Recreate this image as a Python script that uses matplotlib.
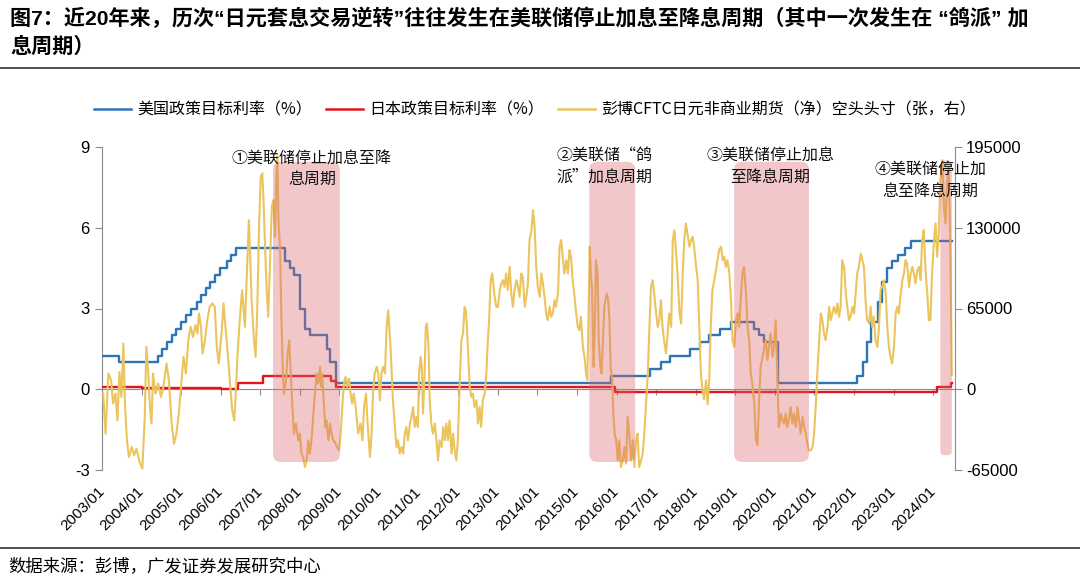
import matplotlib
matplotlib.use('Agg')
import matplotlib.pyplot as plt
from matplotlib.patches import FancyBboxPatch
from matplotlib.lines import Line2D

plt.rcParams['font.family'] = ['Liberation Sans', 'Noto Sans CJK SC']

# ---------------- text ----------------
title_l1 = '图7：近20年来，历次“日元套息交易逆转”往往发生在美联储停止加息至降息周期（其中一次发生在 “鸽派” 加'
title_l2 = '息周期）'
source_text = '数据来源：彭博，广发证券发展研究中心'
legend_labels = ['美国政策目标利率（%）', '日本政策目标利率（%）',
                 '彭博CFTC日元非商业期货（净）空头头寸（张，右）']
year_ticks = list(range(2003, 2025))
year_labels = [f'{y}/01' for y in year_ticks]
left_ticks = [-3, 0, 3, 6, 9]
right_ticks = [-65000, 0, 65000, 130000, 195000]

# ---------------- data ----------------
# US policy target rate (%), step changes (decimal year as placed on chart)
us_t = [2003.00, 2003.42, 2004.42, 2004.52, 2004.63, 2004.77, 2004.86, 2005.00, 2005.13, 2005.25,
        2005.41, 2005.51, 2005.63, 2005.74, 2005.86, 2005.99, 2006.15, 2006.27, 2006.39, 2007.62,
        2007.75, 2007.86, 2007.99, 2008.13, 2008.25, 2008.69, 2008.76, 2008.90, 2015.86, 2016.85,
        2017.12, 2017.35, 2017.86, 2018.11, 2018.34, 2018.62, 2018.89, 2019.48, 2019.60, 2019.73,
        2020.08, 2022.08, 2022.22, 2022.33, 2022.44, 2022.60, 2022.71, 2022.84, 2022.96, 2023.11,
        2023.28, 2023.44, 2024.47]
us_v = [1.25, 1.00, 1.25, 1.50, 1.75, 2.00, 2.25, 2.50, 2.75, 3.00,
        3.25, 3.50, 3.75, 4.00, 4.25, 4.50, 4.75, 5.00, 5.25, 4.75,
        4.50, 4.25, 3.00, 2.25, 2.00, 1.50, 1.00, 0.25, 0.50, 0.75,
        1.00, 1.25, 1.50, 1.75, 2.00, 2.25, 2.50, 2.25, 2.00, 1.75,
        0.25, 0.50, 1.00, 1.75, 2.50, 3.25, 4.00, 4.50, 4.75, 5.00,
        5.25, 5.50, 5.50]

# Japan policy target rate (%)
jp_t = [2003.00, 2004.00, 2005.00, 2006.00, 2006.44, 2007.06, 2008.78, 2008.91, 2015.97, 2024.09, 2024.46, 2024.47]
jp_v = [0.08, 0.06, 0.03, 0.01, 0.25, 0.50, 0.30, 0.10, -0.10, 0.10, 0.25, 0.25]

# Bloomberg CFTC JPY non-commercial net short (thousand contracts)
cftc_points = [
    (2003.03, -3.5), (2003.09, -35.7), (2003.16, 12.7), (2003.23, 7.3), (2003.28, -11.5), (2003.34, -3.5),
    (2003.39, -25.0), (2003.44, 13.9), (2003.49, -6.2), (2003.54, 36.8), (2003.58, -11.5), (2003.63, -41.1),
    (2003.68, -54.6), (2003.75, -46.5), (2003.81, -53.2), (2003.87, -47.8), (2003.95, -58.6), (2004.02, -64.0),
    (2004.08, -22.3), (2004.12, 34.1), (2004.17, 12.7), (2004.21, -14.3), (2004.25, -27.6), (2004.29, 12.7),
    (2004.35, -3.5), (2004.42, 4.6), (2004.49, -6.2), (2004.55, 1.9), (2004.63, 20.7), (2004.69, 7.3),
    (2004.76, -27.6), (2004.82, -43.8), (2004.88, -35.7), (2004.94, -19.6), (2005.01, 7.3), (2005.06, 26.0),
    (2005.12, 12.7), (2005.18, 39.5), (2005.24, 50.2), (2005.30, 42.1), (2005.36, 51.6), (2005.41, 44.9),
    (2005.45, 61.0), (2005.50, 50.2), (2005.54, 28.8), (2005.60, 39.5), (2005.66, 55.6), (2005.72, 66.3),
    (2005.79, 69.1), (2005.85, 66.3), (2005.90, 34.1), (2005.95, 20.7), (2006.02, 44.9), (2006.07, 69.1),
    (2006.12, 50.2), (2006.19, 23.4), (2006.24, 1.9), (2006.29, -16.9), (2006.34, -25.0), (2006.38, -3.5),
    (2006.42, 26.0), (2006.48, 55.6), (2006.54, 79.8),
    (2006.61, 50.2), (2006.71, 136.0), (2006.74, 110.0), (2006.78, 71.7), (2006.84, 39.5), (2006.88, 26.0),
    (2006.92, 61.0), (2006.97, 133.5), (2007.01, 171.1), (2007.05, 173.8), (2007.08, 152.3), (2007.12, 114.7),
    (2007.16, 79.8), (2007.20, 58.3), (2007.24, 98.5), (2007.29, 146.9), (2007.33, 152.3), (2007.37, 122.7),
    (2007.40, 168.4), (2007.43, 187.2), (2007.46, 133.5), (2007.50, 112.0), (2007.53, 61.0), (2007.57, 12.7),
    (2007.60, -3.5), (2007.65, 7.3), (2007.69, 28.8), (2007.73, 39.5), (2007.77, 12.7), (2007.81, -14.3),
    (2007.85, -35.7), (2007.90, -27.6), (2007.96, -41.1), (2008.00, -35.7), (2008.04, -51.8), (2008.08, -54.6),
    (2008.13, -62.6), (2008.17, -57.2), (2008.21, -41.1), (2008.25, -51.8), (2008.30, -38.4), (2008.34, -19.6),
    (2008.38, -3.5), (2008.42, 12.7), (2008.46, 4.6), (2008.51, 18.0), (2008.53, 1.9), (2008.56, 12.7),
    (2008.61, -14.3), (2008.64, -30.4), (2008.67, -25.0), (2008.72, -41.1), (2008.76, -27.6), (2008.80, -35.7),
    (2008.84, -41.1), (2008.88, -42.5), (2008.94, -46.5), (2008.99, -49.2), (2009.03, -35.7), (2009.08, -8.9),
    (2009.12, 7.3), (2009.16, 9.9), (2009.19, 1.9), (2009.24, 8.6), (2009.28, -3.5), (2009.32, -11.5),
    (2009.36, -3.5), (2009.41, -14.3), (2009.47, -35.7), (2009.53, -27.6), (2009.58, -41.1), (2009.62, -14.3),
    (2009.67, -3.5), (2009.71, -27.6), (2009.77, -54.6), (2009.81, -35.7), (2009.85, -0.8), (2009.89, 12.7),
    (2009.94, 18.0), (2009.98, 12.7), (2010.02, -8.9), (2010.06, 12.7), (2010.10, 18.0),
    (2010.15, 12.7), (2010.19, 50.2), (2010.23, 63.7), (2010.29, 34.1), (2010.32, 12.7), (2010.35, -8.9),
    (2010.40, -30.4), (2010.44, -46.5), (2010.48, -41.1), (2010.52, -51.8), (2010.57, -46.5), (2010.61, -51.8),
    (2010.65, -35.7), (2010.69, -30.4), (2010.73, -41.1), (2010.78, -27.6), (2010.82, -22.3), (2010.86, -14.3),
    (2010.90, -30.4), (2010.94, -22.3), (2010.98, -30.4), (2011.01, 12.7), (2011.05, 26.0), (2011.08, 18.0),
    (2011.11, -19.6), (2011.15, 12.7), (2011.18, 50.2), (2011.21, 52.9), (2011.25, 34.1), (2011.28, -8.9),
    (2011.32, -27.6), (2011.36, -35.7), (2011.41, -27.6), (2011.45, -41.1), (2011.49, -57.2), (2011.53, -41.1),
    (2011.58, -46.5), (2011.62, -30.4), (2011.66, -41.1), (2011.70, -27.6), (2011.74, -41.1), (2011.78, -25.0),
    (2011.83, -51.8), (2011.87, -35.7), (2011.91, -49.2), (2011.95, -57.2), (2011.99, -41.1), (2012.04, 7.3),
    (2012.08, 39.5), (2012.12, 44.9), (2012.16, 66.3), (2012.19, 63.7), (2012.22, 50.2), (2012.26, 23.4),
    (2012.29, 1.9), (2012.33, -6.2), (2012.37, -3.5), (2012.41, -14.3), (2012.46, -8.9), (2012.50, -27.6),
    (2012.54, -14.3), (2012.58, -30.4), (2012.62, -8.9), (2012.67, -3.5), (2012.71, 12.7), (2012.74, 34.1),
    (2012.78, 55.6), (2012.82, 87.8), (2012.86, 93.2), (2012.92, 74.4), (2012.96, 66.3), (2013.00, 66.3),
    (2013.05, 79.8), (2013.09, 85.2), (2013.13, 87.8), (2013.17, 82.4), (2013.21, 93.2), (2013.25, 79.8),
    (2013.30, 98.5), (2013.34, 77.1), (2013.38, 66.3), (2013.42, 79.8), (2013.47, 87.8), (2013.51, 82.4),
    (2013.55, 74.4), (2013.59, 93.2), (2013.63, 90.5), (2013.68, 66.3),
    (2013.72, 74.4), (2013.76, 85.2), (2013.80, 120.1), (2013.85, 128.1), (2013.89, 144.2), (2013.93, 130.8),
    (2013.97, 98.5), (2014.01, 82.4), (2014.06, 74.4), (2014.10, 93.2), (2014.14, 85.2), (2014.18, 74.4),
    (2014.22, 61.0), (2014.26, 55.6), (2014.31, 66.3), (2014.35, 58.3), (2014.39, 61.0), (2014.43, 71.7),
    (2014.47, 66.3), (2014.52, 77.1), (2014.56, 114.7), (2014.60, 120.1), (2014.64, 106.6), (2014.68, 93.2),
    (2014.73, 103.9), (2014.77, 93.2), (2014.81, 112.0), (2014.85, 106.6), (2014.89, 87.8), (2014.93, 77.1),
    (2014.98, 61.0), (2015.02, 50.2), (2015.06, 47.5), (2015.10, 58.3), (2015.15, 34.1), (2015.19, 26.0),
    (2015.23, 12.7), (2015.26, 7.3), (2015.28, 39.5), (2015.32, 114.7), (2015.35, 93.2), (2015.38, 79.8),
    (2015.42, 18.0), (2015.45, 50.2), (2015.48, 103.9), (2015.52, 93.2), (2015.55, 39.5), (2015.59, 18.0),
    (2015.62, 12.7), (2015.65, 34.1), (2015.69, 66.3), (2015.75, 77.1), (2015.79, 71.7), (2015.82, 55.6),
    (2015.85, 18.0), (2015.89, 7.3), (2015.92, -19.6), (2015.95, -35.7), (2015.99, -41.1), (2016.03, -57.2),
    (2016.07, -41.1), (2016.11, -62.6), (2016.16, -57.2), (2016.20, -46.5), (2016.24, -59.9), (2016.28, -22.3),
    (2016.32, -35.7), (2016.37, -57.2), (2016.41, -41.1), (2016.45, -62.6), (2016.49, -41.1), (2016.53, -35.7),
    (2016.57, -62.6), (2016.62, -57.2), (2016.66, -51.8), (2016.70, -35.7), (2016.74, -14.3), (2016.79, 12.7),
    (2016.83, 50.2), (2016.87, 82.4), (2016.91, 87.8), (2016.95, 77.1), (2017.00, 61.0), (2017.04, 50.2),
    (2017.08, 55.6), (2017.12, 71.7), (2017.16, 50.2), (2017.20, 39.5), (2017.25, 28.8), (2017.29, 44.9),
    (2017.33, 61.0), (2017.38, 50.2), (2017.42, 120.1), (2017.46, 128.1), (2017.50, 112.0), (2017.54, 93.2),
    (2017.59, 61.0), (2017.63, 52.9), (2017.67, 93.2), (2017.71, 120.1), (2017.75, 133.5), (2017.79, 125.5),
    (2017.84, 114.7), (2017.88, 120.1), (2017.92, 122.7), (2017.96, 114.7), (2018.01, 98.5), (2018.05, 87.8),
    (2018.09, 50.2), (2018.13, 12.7), (2018.17, -0.8), (2018.21, -8.0), (2018.26, 7.3), (2018.30, -12.0),
    (2018.34, 7.3), (2018.38, 50.2), (2018.42, 79.8), (2018.47, 87.8), (2018.51, 95.9), (2018.55, 103.9),
    (2018.59, 112.0), (2018.64, 114.7), (2018.68, 103.9), (2018.72, 106.6), (2018.76, 98.5), (2018.80, 103.9),
    (2018.85, 93.2), (2018.89, 71.7), (2018.93, 39.5), (2018.97, 34.1), (2019.02, 55.6), (2019.06, 61.0),
    (2019.10, 50.2), (2019.14, 74.4), (2019.18, 93.2), (2019.22, 98.5), (2019.27, 77.1), (2019.31, 50.2),
    (2019.35, 39.5), (2019.39, 12.7), (2019.43, 4.6), (2019.48, -11.5), (2019.52, -41.0), (2019.56, -45.0),
    (2019.60, -8.9), (2019.64, 18.0), (2019.69, 26.0), (2019.73, 34.1), (2019.77, 39.5), (2019.81, 23.4),
    (2019.85, 34.1), (2019.89, 44.9), (2019.94, 26.0), (2019.98, 34.1), (2020.02, 55.6), (2020.06, 12.7),
    (2020.10, -30.4), (2020.15, -19.6), (2020.19, -25.0), (2020.23, -27.6), (2020.27, -19.6), (2020.31, -30.4),
    (2020.36, -22.3), (2020.40, -14.3), (2020.44, -27.6), (2020.48, -19.6), (2020.53, -30.4), (2020.57, -14.3),
    (2020.61, -25.0), (2020.65, -35.7),
    (2020.70, -22.3), (2020.74, -30.4), (2020.78, -35.7), (2020.82, -43.8), (2020.86, -49.2), (2020.91, -49.2),
    (2020.95, -46.5), (2020.99, -35.7), (2021.03, -14.3), (2021.07, 12.7), (2021.12, 39.5), (2021.16, 61.0),
    (2021.20, 55.6), (2021.24, 44.9), (2021.28, 39.5), (2021.33, 50.2), (2021.37, 66.3), (2021.41, 55.6),
    (2021.45, 61.0), (2021.49, 66.3), (2021.54, 61.0), (2021.58, 69.1), (2021.62, 58.3), (2021.66, 66.3),
    (2021.70, 103.9), (2021.75, 98.5), (2021.79, 77.1), (2021.83, 66.3), (2021.87, 55.6), (2021.91, 58.3),
    (2021.96, 66.3), (2022.00, 61.0), (2022.04, 77.1), (2022.08, 93.2), (2022.12, 98.5), (2022.17, 109.3),
    (2022.21, 103.9), (2022.25, 98.5), (2022.29, 71.7), (2022.33, 55.6), (2022.38, 52.9), (2022.42, 66.3),
    (2022.46, 50.2), (2022.50, 58.3), (2022.54, 39.5), (2022.59, 34.1), (2022.63, 50.2), (2022.67, 79.8),
    (2022.71, 82.4), (2022.75, 87.8), (2022.80, 77.1), (2022.84, 50.2), (2022.88, 34.1), (2022.92, 26.0),
    (2022.96, 20.7), (2023.01, 34.1), (2023.05, 61.0), (2023.09, 66.3), (2023.13, 61.0), (2023.18, 77.1),
    (2023.22, 87.8), (2023.26, 93.2), (2023.30, 103.9), (2023.34, 101.3), (2023.39, 82.4), (2023.43, 93.2),
    (2023.47, 98.5), (2023.51, 93.2), (2023.55, 85.2), (2023.60, 95.9), (2023.64, 98.5), (2023.68, 87.8),
    (2023.72, 120.1), (2023.76, 128.1), (2023.81, 93.2), (2023.85, 77.1), (2023.89, 55.6), (2023.93, 55.6),
    (2023.97, 93.2), (2024.02, 120.1), (2024.06, 133.5), (2024.10, 106.6), (2024.14, 125.5), (2024.18, 168.4),
    (2024.23, 184.5), (2024.27, 146.9), (2024.31, 133.5), (2024.35, 165.7), (2024.39, 179.1), (2024.43, 120.1),
    (2024.47, 11.3),
]
cftc_t = [p[0] for p in cftc_points]
cftc_k = [p[1] for p in cftc_points]

# highlighted periods (start, end) and their labels
periods = [(2007.32, 2009.01), (2015.31, 2016.47), (2018.97, 2020.86), (2024.18, 2024.47)]
period_labels = ['①美联储停止加息至降\n息周期', '②美联储“鸽\n派”加息周期',
                 '③美联储停止加息\n至降息周期', '④美联储停止加\n息至降息周期']

# ---------------- style / layout ----------------
C_US = '#2E75B6'
C_JP = '#E3151B'
C_CFTC = '#EBC45E'
C_SHADE = '#DA646A'
C_AX = '#8C8C8C'

fig = plt.figure(figsize=(10.8, 5.78), dpi=100)
ax = fig.add_axes([102 / 1080, 1 - 470 / 578, (955 - 102) / 1080, (470 - 147) / 578])
ax2 = ax.twinx()

ax.plot(us_t, us_v, drawstyle='steps-post', color=C_US, lw=1.7, zorder=3)
ax.plot(jp_t, jp_v, drawstyle='steps-post', color=C_JP, lw=1.7, zorder=3)
ax2.plot(cftc_t, [v * 1000 for v in cftc_k], color=C_CFTC, lw=1.5, zorder=2)

ax.set_xlim(2003.0, 2024.55)
ax.set_ylim(-3, 9)
ax2.set_ylim(-65000, 195000)

# shaded periods (in left-axis units)
shade_tops = [8.45, 8.45, 8.45, 8.5]
shade_bots = [-2.7, -2.7, -2.7, -2.45]
for (a, b), top, bot in zip(periods, shade_tops, shade_bots):
    r = min(0.2, (b - a) / 2.8)
    p = FancyBboxPatch((a, bot), b - a, top - bot,
                       boxstyle=f'round,pad=0,rounding_size={r}', mutation_aspect=1.5,
                       transform=ax.transData, facecolor=C_SHADE, edgecolor='none',
                       alpha=0.36, zorder=4)
    ax2.add_patch(p)

label_pos = [(2008.30, 8.18), (2015.69, 8.29), (2019.88, 8.29), (2023.92, 7.77)]
for (lx, ly), txt in zip(label_pos, period_labels):
    ax2.text(lx, ly, txt, transform=ax.transData, ha='center', va='center',
             fontsize=11.5, color='#111111', linespacing=1.35, zorder=6,
             family=['Noto Sans CJK SC', 'DejaVu Sans'])

# spines
for s in ['top', 'right', 'bottom']:
    ax.spines[s].set_visible(False)
for s in ['top', 'left', 'bottom']:
    ax2.spines[s].set_visible(False)
ax.spines['left'].set_color(C_AX)
ax2.spines['right'].set_color(C_AX)

ax.set_yticks(left_ticks, [str(v) for v in left_ticks])
ax2.set_yticks(right_ticks, [str(v) for v in right_ticks])
ax.tick_params(axis='y', direction='out', length=5, color=C_AX, labelsize=12, pad=4)
ax2.tick_params(axis='y', direction='out', length=5, color=C_AX, labelsize=12, pad=3)

# x-axis: zero line with tick marks, labels at bottom
ax.set_xticks(year_ticks, year_labels)
ax.tick_params(axis='x', length=0, labelsize=11, pad=14)
for lab in ax.get_xticklabels():
    lab.set_rotation(45)
    lab.set_ha('right')
    lab.set_va('center')
    lab.set_rotation_mode('anchor')

sec = ax.secondary_xaxis(0.25)
sec.set_xticks(year_ticks, ['' for _ in year_ticks])
sec.tick_params(axis='x', direction='out', length=4, color=C_AX)
sec.spines['bottom'].set_color(C_AX)

# legend
handles = [Line2D([], [], color=c, lw=1.8) for c in (C_US, C_JP, C_CFTC)]
fig.legend(handles, legend_labels, loc='center', bbox_to_anchor=(535 / 1080, 1 - 110 / 578),
           ncol=3, frameon=False, handlelength=2.3, handletextpad=0.4,
           columnspacing=0.9, prop={'family': ['Noto Sans CJK SC', 'DejaVu Sans'], 'size': 11.5})

# title, rules, source
fig.text(10 / 1080, 1 - 18 / 578, title_l1, fontsize=15.2, weight='bold', va='center', ha='left')
fig.text(10 / 1080, 1 - 47 / 578, title_l2, fontsize=15.2, weight='bold', va='center', ha='left')
fig.add_artist(Line2D([0, 1], [1 - 68 / 578, 1 - 68 / 578], transform=fig.transFigure,
                      color='#404040', lw=1.3))
fig.add_artist(Line2D([0, 1], [1 - 548 / 578, 1 - 548 / 578], transform=fig.transFigure,
                      color='#404040', lw=1.3))
fig.text(8 / 1080, 1 - 566 / 578, source_text, fontsize=12.5, va='center', ha='left')

fig.savefig('out.png', dpi=100)
